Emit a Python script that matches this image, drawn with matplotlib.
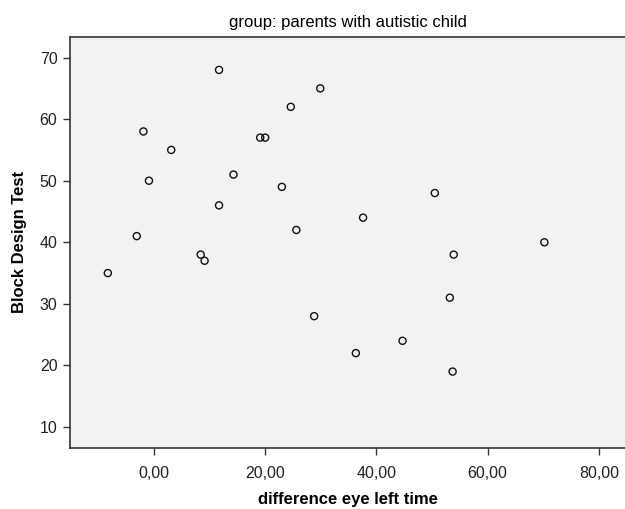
import numpy as np
import matplotlib.pyplot as plt

plt.rcParams['font.family'] = ['Liberation Sans', 'DejaVu Sans']

# difference eye left time vs Block Design Test
eye_left_diff = [11.7, 29.9, 24.6, -1.9, 19.1, 20.0, 3.1, 14.3, -0.9, 23.0,
                 11.7, 25.6, -3.1, 8.4, 9.1, -8.3, 28.8, 50.5, 37.6, 70.2,
                 53.9, 53.2, 44.7, 36.3, 53.7]
block_design = [68, 65, 62, 58, 57, 57, 55, 51, 50, 49,
                46, 42, 41, 38, 37, 35, 28, 48, 44, 40,
                38, 31, 24, 22, 19]

x_ticks = [0, 20, 40, 60, 80]
y_ticks = [10, 20, 30, 40, 50, 60, 70]

fig = plt.figure(figsize=(6.25, 5.09), dpi=100)
ax = fig.add_axes([0.112, 0.12, 0.888, 0.808])
ax.set_facecolor('#f2f2f2')

ax.scatter(eye_left_diff, block_design, s=26, facecolors='none',
           edgecolors='#111111', linewidths=1.0, zorder=3)

ax.set_xlim(-15.1, 84.7)
ax.set_ylim(6.6, 73.4)
ax.set_xticks(x_ticks)
ax.set_xticklabels([f"{v:.2f}".replace('.', ',') for v in x_ticks])
ax.set_yticks(y_ticks)

for side in ['left', 'bottom', 'top']:
    ax.spines[side].set_color('#333333')
    ax.spines[side].set_linewidth(1.2)
ax.spines['right'].set_visible(False)
ax.tick_params(direction='out', length=5, width=1, colors='#333333',
               labelcolor='#222222', labelsize=11.5)
ax.tick_params(axis='x', pad=8)
ax.tick_params(axis='y', pad=4)

ax.set_title('group: parents with autistic child', fontsize=12, pad=7)
ax.set_xlabel('difference eye left time', fontsize=12, fontweight='bold', labelpad=8)
ax.set_ylabel('Block Design Test', fontsize=12, fontweight='bold', labelpad=9)

fig.savefig('out.png', dpi=100)
